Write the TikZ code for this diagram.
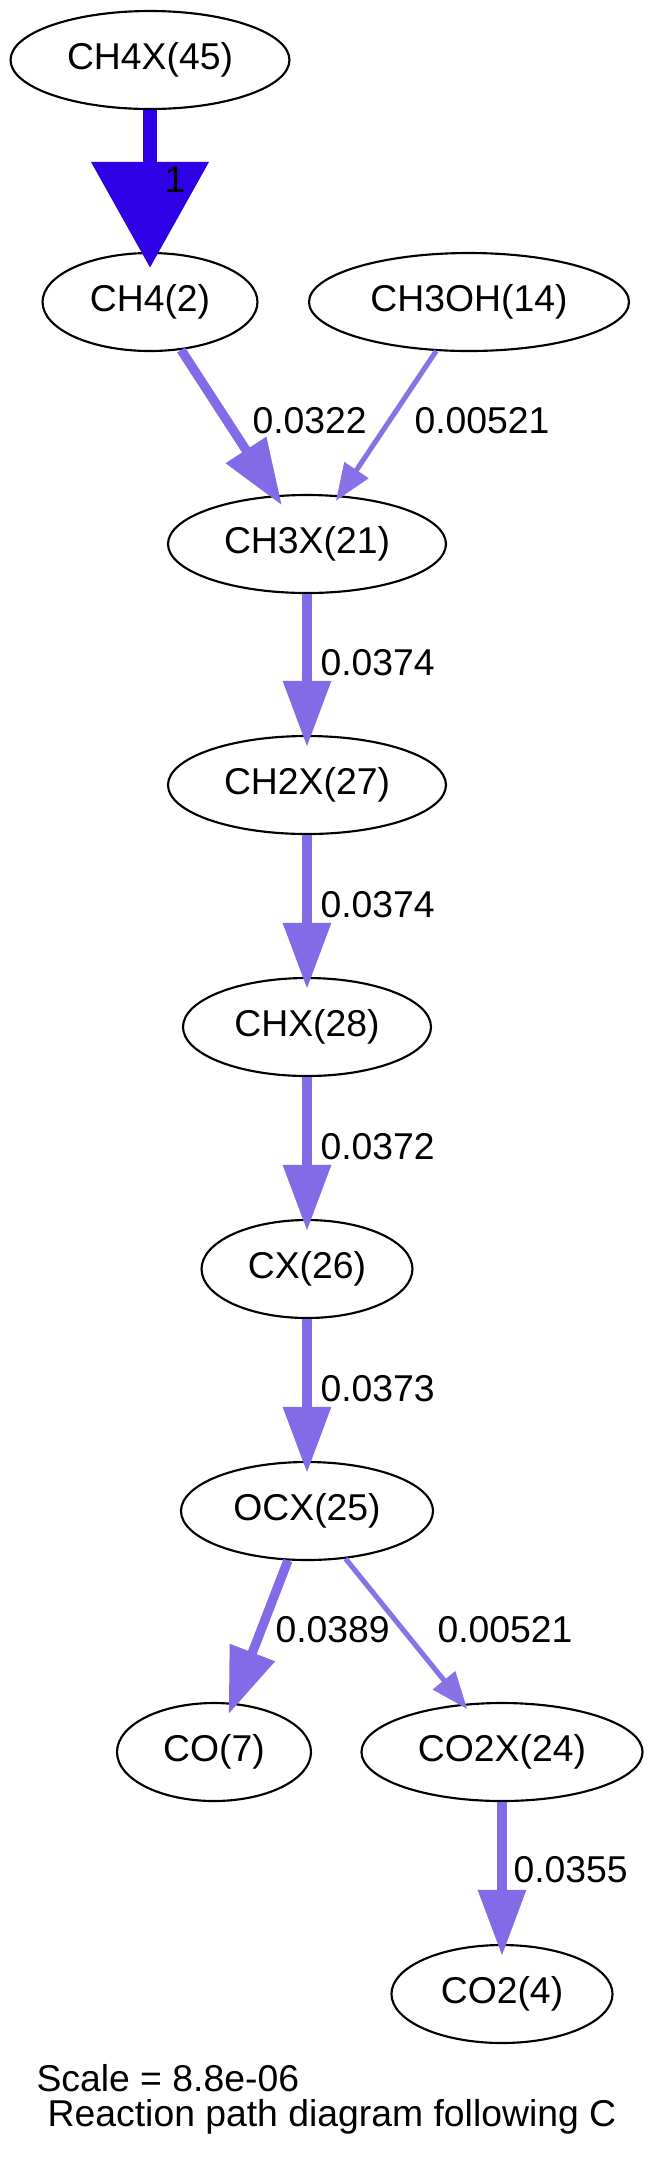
\documentclass[tikz,border=0pt]{standalone}
\usepackage{fontspec}
\setmainfont{Liberation Sans}
\usepackage{tikz}
\usetikzlibrary{arrows.meta}
\usetikzlibrary{shapes.geometric}
\definecolor{fluxdark}{RGB}{46, 0, 230}
\definecolor{fluxmid}{RGB}{131, 106, 230}
\definecolor{fluxthin}{RGB}{137, 114, 230}
\tikzset{species/.style = {draw, ellipse, line width = 0.8pt, inner sep = 0, minimum height = 36.75pt, font = \fontsize{14}{17}\selectfont}}
\tikzset{flabel/.style = {anchor = west, inner sep = 0, font = \fontsize{14}{17}\selectfont}}
\tikzset{bigflux/.style = {draw = fluxdark, line width = 5.6pt, -{Triangle[length = 39.75pt, width = 42.75pt]}, shorten > = -6pt}}
\tikzset{midflux/.style = {draw = fluxmid, line width = 3.5pt, -{Triangle[length = 24.75pt, width = 17.25pt]}, shorten > = -4.5pt}}
\tikzset{thinflux/.style = {draw = fluxthin, line width = 1.9pt, -{Triangle[length = 13.9pt, width = 10.5pt]}, shorten > = -2.5pt}}

\begin{document}
\begin{tikzpicture}[x = 0.375pt, y = -0.375pt]
      \useasboundingbox (0, 0) rectangle (655, 2161);
      \node [species, minimum width = 104.6pt] (ch4x) at (150, 60) {CH4X(45)};
      \node [species, minimum width = 80.6pt] (ch4) at (150, 302) {CH4(2)};
      \node [species, minimum width = 120pt] (ch3oh) at (469, 302) {CH3OH(14)};
      \node [species, minimum width = 104.25pt] (ch3x) at (307, 544) {CH3X(21)};
      \node [species, minimum width = 104.25pt] (ch2x) at (307, 785) {CH2X(27)};
      \node [species, minimum width = 93pt] (chx) at (307, 1027) {CHX(28)};
      \node [species, minimum width = 79.1pt] (cx) at (307, 1269) {CX(26)};
      \node [species, minimum width = 94.5pt] (ocx) at (307, 1511) {OCX(25)};
      \node [species, minimum width = 72.75pt] (co) at (214, 1752) {CO(7)};
      \node [species, minimum width = 105.4pt] (co2x) at (502, 1752) {CO2X(24)};
      \node [species, minimum width = 82.9pt] (co2) at (502, 1994) {CO2(4)};
      \draw [bigflux] (ch4x) -- (ch4);
      \node [flabel] (l1) at (164, 180) {1};
      \draw [midflux] (ch4) -- (ch3x);
      \node [flabel] (l2) at (252, 421) {0.0322};
      \draw [thinflux] (ch3oh) -- (ch3x);
      \node [flabel] (l3) at (414, 421) {0.00521};
      \foreach \src/\dst/\flux/\ly in {ch3x/ch2x/0.0374/663, ch2x/chx/0.0374/905, chx/cx/0.0372/1147, cx/ocx/0.0373/1389} {
        \draw [midflux] (\src) -- (\dst);
        \node [flabel] (l\src) at (320, \ly) {\flux};
      }
      \draw [midflux] (ocx) -- (co);
      \node [flabel] (l8) at (275, 1630) {0.0389};
      \draw [thinflux] (ocx) -- (co2x);
      \node [flabel] (l9) at (437, 1630) {0.00521};
      \draw [midflux] (co2x) -- (co2);
      \node [flabel] (l10) at (513, 1870) {0.0355};
      \node [flabel] (scale) at (36, 2078) {Scale = 8.8e-06};
      \node [inner sep = 0, font = \fontsize{14}{17}\selectfont] (title) at (332, 2117) {Reaction path diagram following C};
    \end{tikzpicture}
\end{document}
